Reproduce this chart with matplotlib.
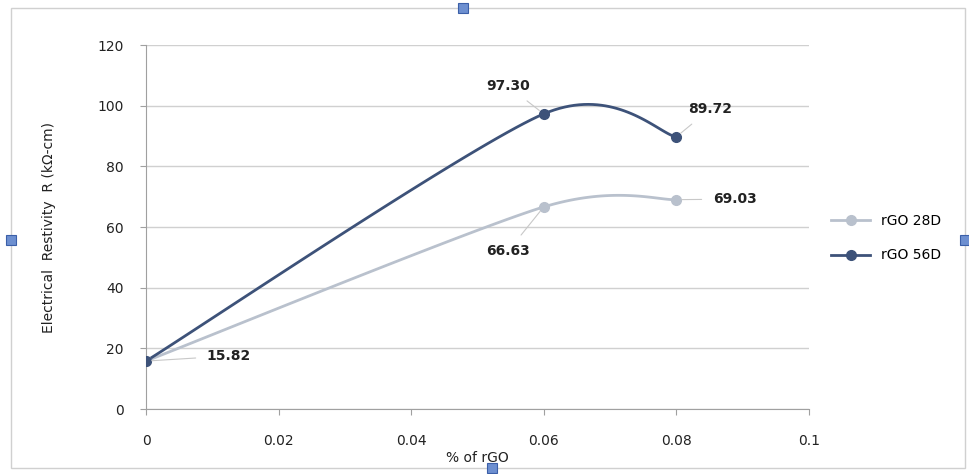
import numpy as np
import matplotlib.pyplot as plt
from matplotlib.patches import Rectangle

# data
x_vals = [0, 0.06, 0.08]
r_28d = [15.82, 66.63, 69.03]
r_56d = [15.82, 97.30, 89.72]
series_names = ["rGO 28D", "rGO 56D"]
# label text positions (data coords) for each point label
label_pos_28d = [None, (0.0546, 52.0), (0.0888, 69.2)]
label_pos_56d = [(0.0125, 17.5), (0.0546, 106.5), (0.0851, 98.9)]

c28 = "#b9c1cd"
c56 = "#3d5279"


def smooth(xs, ys, n=40, k=0.8):
    """Excel-style smoothed line (bezier) through the points."""
    pts = np.column_stack([xs, ys]).astype(float)
    out = []
    for i in range(len(pts) - 1):
        p0 = pts[max(i - 1, 0)]
        p1 = pts[i]
        p2 = pts[i + 1]
        p3 = pts[min(i + 2, len(pts) - 1)]
        c1 = p1 + k * (p2 - p0) / 6
        c2 = p2 - k * (p3 - p1) / 6
        t = np.linspace(0, 1, n)[:, None]
        seg = ((1 - t) ** 3) * p1 + 3 * ((1 - t) ** 2) * t * c1 \
            + 3 * (1 - t) * t ** 2 * c2 + t ** 3 * p2
        out.append(seg if i == 0 else seg[1:])
    seg = np.vstack(out)
    return seg[:, 0], seg[:, 1]


fig = plt.figure(figsize=(9.69, 4.74), dpi=100)
ax = fig.add_axes([0.1507, 0.137, 0.684, 0.768])

for ys, col, name in [(r_28d, c28, series_names[0]), (r_56d, c56, series_names[1])]:
    sx, sy = smooth(x_vals, ys)
    ax.plot(sx, sy, color=col, lw=2, zorder=3)
    ax.plot(x_vals, ys, "o", color=col, ms=7, zorder=4)
    # legend proxy
    ax.plot([], [], "-o", color=col, lw=2, ms=7, label=name)

for xs, ys, poss in [(x_vals, r_28d, label_pos_28d), (x_vals, r_56d, label_pos_56d)]:
    for xv, yv, pos in zip(xs, ys, poss):
        if pos is None:
            continue
        ax.annotate(f"{yv:.2f}", xy=(xv, yv), xytext=pos, ha="center", va="center",
                    fontsize=10, fontweight="bold", color="#222222",
                    arrowprops=dict(arrowstyle="-", color="#c8c8c8", lw=0.8,
                                    shrinkA=6, shrinkB=4), zorder=5)

ax.set_xlim(0, 0.1)
ax.set_ylim(0, 120)
ax.set_xticks([0, 0.02, 0.04, 0.06, 0.08, 0.1])
ax.set_xticklabels(["0", "0.02", "0.04", "0.06", "0.08", "0.1"])
ax.set_yticks(range(0, 121, 20))
ax.yaxis.grid(True, color="#d0d0d0", lw=1)
ax.set_axisbelow(True)
for s in ["top", "right"]:
    ax.spines[s].set_visible(False)
for s in ["left", "bottom"]:
    ax.spines[s].set_color("#a0a0a0")
ax.tick_params(colors="#a0a0a0", labelcolor="#222222", labelsize=10, length=4)
ax.tick_params(axis="x", pad=14)
ax.tick_params(axis="y", pad=12)
ax.set_xlabel("% of rGO", fontsize=10, color="#222222", labelpad=2)
ax.set_ylabel("Electrical  Restivity  R (k\u03a9-cm)", fontsize=10, color="#222222", labelpad=30)

ax.legend(loc="center left", bbox_to_anchor=(1.015, 0.47), frameon=False, fontsize=10,
          handlelength=2.8, labelspacing=1.5)

# chart area border
fig.patches.append(Rectangle((0.011, 0.013), 0.985, 0.97, transform=fig.transFigure,
                             fill=False, edgecolor="#d0d0d0", lw=1))
# selection handles
for hx, hy in [(0.478, 0.983), (0.011, 0.494), (0.996, 0.494), (0.508, 0.013)]:
    fig.patches.append(Rectangle((hx - 0.005, hy - 0.01), 0.01, 0.02,
                                 transform=fig.transFigure, facecolor="#6d8fd0",
                                 edgecolor="#3b5fa8", lw=0.8, zorder=10))

fig.savefig("out.png", dpi=100)
